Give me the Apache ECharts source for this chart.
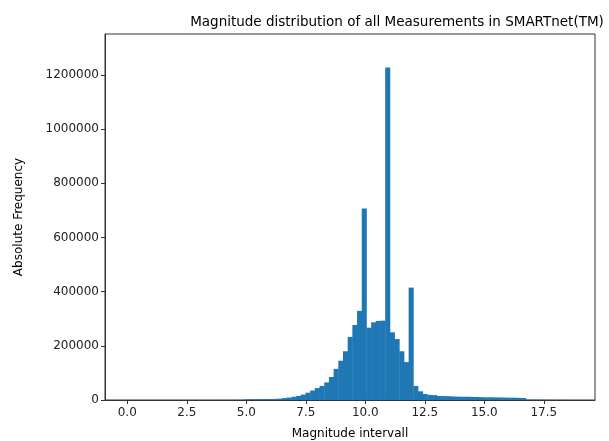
<!DOCTYPE html>
<html>
<head>
<meta charset="utf-8">
<script src="https://cdn.jsdelivr.net/npm/echarts@6/dist/echarts.min.js"></script>
<style>
  html, body { margin: 0; padding: 0; background: #fff; }
  #chart { width: 609px; height: 441px; }
</style>
</head>
<body>
<div id="chart"></div>
<script>
var binStart = 0;
var binWidth = 0.197;
// counts per bin (95 bins from 0 to ~18.7)
var counts = [
  20, 20, 20, 30, 30, 30, 40, 40, 50, 50,
  60, 60, 70, 80, 90, 100, 110, 120, 140, 160,
  180, 200, 250, 300, 400, 2500, 3000, 3000, 3200, 3500,
  3800, 4200, 5000, 7000, 9000, 12000, 15000, 20000, 27000, 35000,
  44000, 52000, 65000, 85000, 115000, 145000, 180000, 233000, 277000, 329000,
  707000, 267000, 287000, 292000, 293000, 1228000, 250000, 225000, 180000, 140000,
  415000, 52000, 32000, 22000, 19000, 18000, 15000, 14500, 14000, 13000,
  12500, 12000, 12000, 11500, 11000, 10500, 10000, 10000, 9500, 9500,
  9000, 8500, 8500, 8000, 7500, 1500, 1200, 1000, 800, 600,
  500, 400, 300, 200, 150
];
var xTicks = [0, 2.5, 5, 7.5, 10, 12.5, 15, 17.5];

var bins = counts.map(function (c, i) {
  return [binStart + i * binWidth, binStart + (i + 1) * binWidth, c];
});

var chart = echarts.init(document.getElementById('chart'));
var font = 'DejaVu Sans';
option = {
  animation: false,
  title: {
    text: 'Magnitude distribution of all Measurements in SMARTnet(TM)',
    left: 392,
    top: 10,
    textAlign: 'center',
    textStyle: { fontFamily: font, fontSize: 13.5, fontWeight: 'normal', color: '#000' }
  },
  grid: {
    left: 105, right: 14, top: 34, bottom: 41,
    outerBoundsMode: 'none',
    show: true, borderColor: '#333', borderWidth: 1
  },
  xAxis: {
    type: 'value',
    min: -0.936,
    max: 19.65,
    name: 'Magnitude intervall',
    nameLocation: 'middle',
    nameGap: 28,
    nameTextStyle: { fontFamily: font, fontSize: 12, color: '#000' },
    splitLine: { show: false },
    axisLine: { onZero: false, lineStyle: { color: '#333' } },
    axisTick: { length: 4, customValues: xTicks, lineStyle: { color: '#333' } },
    axisLabel: {
      customValues: xTicks,
      fontFamily: font, fontSize: 12, color: '#222', margin: 7,
      formatter: function (v) { return v.toFixed(1); }
    }
  },
  yAxis: {
    type: 'value',
    min: 0,
    max: 1351400,
    interval: 200000,
    name: 'Absolute Frequency',
    nameLocation: 'middle',
    nameGap: 80,
    nameTextStyle: { fontFamily: font, fontSize: 12, color: '#000' },
    splitLine: { show: false },
    axisLine: { show: true, onZero: false, lineStyle: { color: '#333' } },
    axisTick: { show: true, length: 4, lineStyle: { color: '#333' } },
    axisLabel: {
      fontFamily: font, fontSize: 12, color: '#222', margin: 6, showMaxLabel: false,
      formatter: function (v) { return String(v); }
    }
  },
  series: [{
    type: 'custom',
    data: bins,
    encode: { x: [0, 1], y: 2 },
    renderItem: function (params, api) {
      var p0 = api.coord([api.value(0), 0]);
      var p1 = api.coord([api.value(1), api.value(2)]);
      return {
        type: 'rect',
        shape: { x: p0[0], y: p1[1], width: p1[0] - p0[0] + 0.4, height: p0[1] - p1[1] },
        style: { fill: '#1f77b4' }
      };
    }
  }]
};
chart.setOption(option);
</script>
</body>
</html>
